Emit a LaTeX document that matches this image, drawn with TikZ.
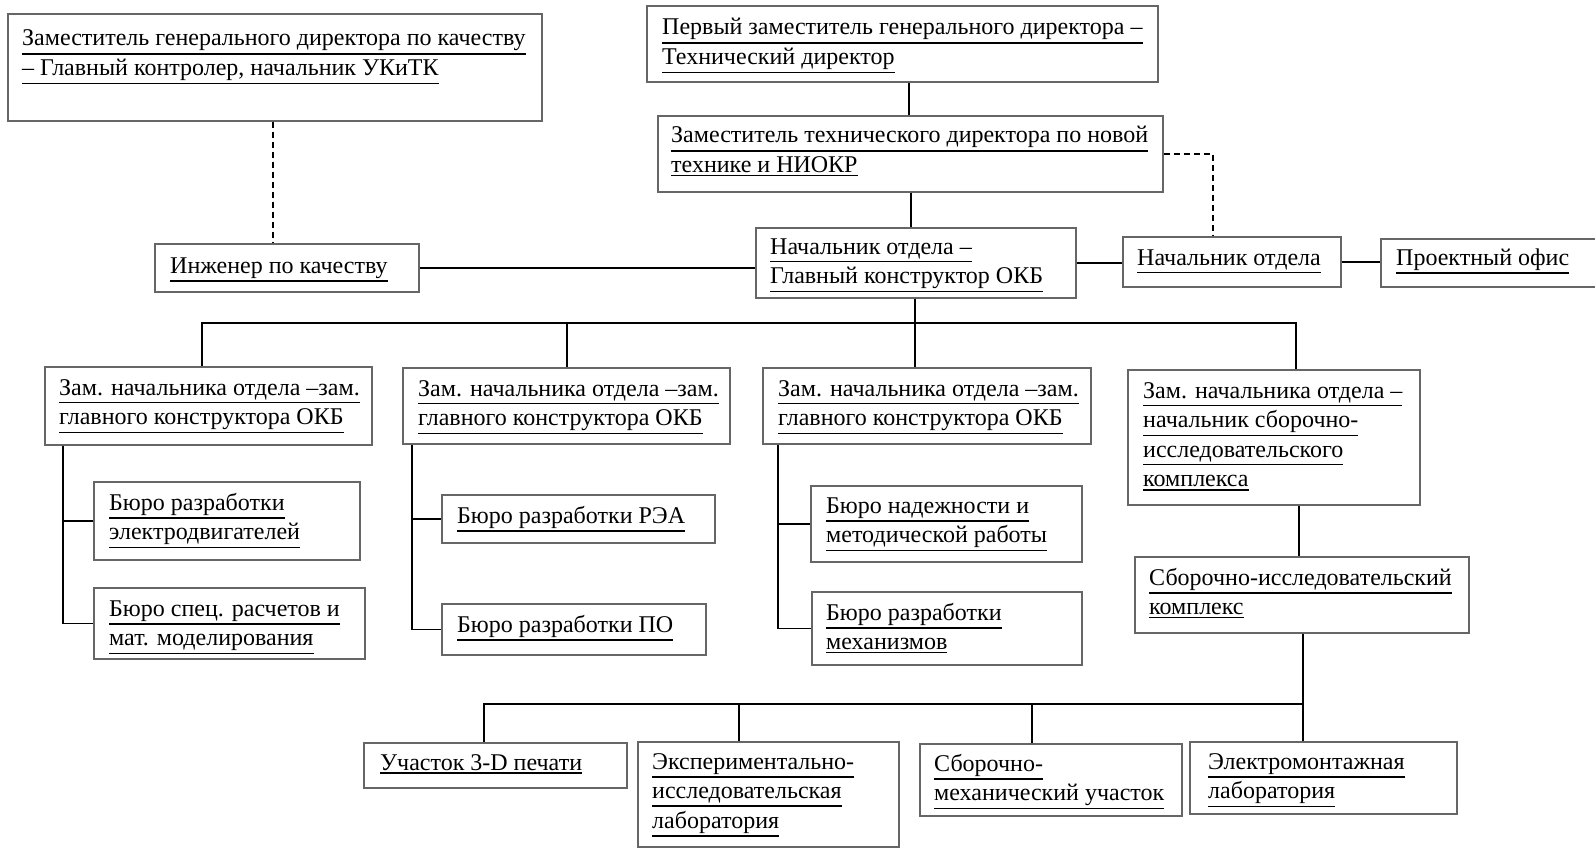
\documentclass[tikz,border=0pt]{standalone}
\usepackage{fontspec}
\setmainfont{Liberation Serif}
\usetikzlibrary{fit}
\tikzset{
  box/.style={draw=black!60, line width=1.1pt, rectangle, inner sep=0pt},
  conn/.style={draw=black, line width=1.8pt},
  dconn/.style={conn, dash pattern=on 6pt off 4pt},
  txt/.style={inner sep=0pt, anchor=base west, font=\fontsize{24}{29.6}\selectfont},
}
\newcommand\ulx[1]{\vtop{\hbox{#1}\kern2pt\hrule height1.5pt}}
\newcommand\bx[3]{\node[box, fit={(#2) (#3)}] (#1) {};}
\newcommand\tx[3]{\node[txt] (#1) at (#2) {\begin{tabular}[t]{@{}l@{}}#3\end{tabular}};}
\begin{document}
\begin{tikzpicture}[x=1pt,y=-1pt]
\fill[white] (0,0) rectangle (1595,853);
\useasboundingbox (0,0) rectangle (1595,853);
% boxes
\bx{A}{8,14}{542,121}
\bx{Q}{155,244}{419,292}
\bx{B}{647,6}{1158,82}
\bx{C}{658,116}{1163,192}
\bx{D}{756,228}{1076,298}
\bx{E}{1123,237}{1341,287}
\bx{F}{1381,239}{1600,287}
\bx{G1}{45,367}{372,445}
\bx{G2}{403,368}{730,444}
\bx{G3}{763,368}{1091,444}
\bx{G4}{1128,370}{1420,505}
\bx{H1}{94,482}{360,560}
\bx{H2}{94,588}{365,659}
\bx{H3}{442,495}{715,543}
\bx{H4}{442,604}{706,655}
\bx{H5}{811,486}{1082,562}
\bx{H6}{812,592}{1082,665}
\bx{I}{1135,557}{1469,633}
\bx{J1}{364,743}{627,788}
\bx{J2}{638,742}{899,847}
\bx{J3}{920,744}{1182,816}
\bx{J4}{1190,742}{1457,814}
% texts
\tx{tA}{22,46}{\ulx{Заместитель генерального директора по качеству}\\\ulx{– Главный контролер, начальник УКиТК}}
\tx{tQ}{170,273}{\ulx{Инженер по качеству}}
\tx{tB}{662,35}{\ulx{Первый заместитель генерального директора –}\\\ulx{Технический директор}}
\tx{tC}{671,143}{\ulx{Заместитель технического директора по новой}\\\ulx{технике и НИОКР}}
\tx{tD}{770,254}{\ulx{Начальник отдела –}\\\ulx{Главный конструктор ОКБ}}
\tx{tE}{1137,265}{\ulx{Начальник отдела}}
\tx{tF}{1396,265}{\ulx{Проектный офис}}
\tx{tG1}{59,395}{\ulx{Зам. начальника отдела –зам.}\\\ulx{главного конструктора ОКБ}}
\tx{tG2}{418,396}{\ulx{Зам. начальника отдела –зам.}\\\ulx{главного конструктора ОКБ}}
\tx{tG3}{778,396}{\ulx{Зам. начальника отдела –зам.}\\\ulx{главного конструктора ОКБ}}
\tx{tG4}{1143,398}{\ulx{Зам. начальника отдела –}\\\ulx{начальник сборочно-}\\\ulx{исследовательского}\\\ulx{комплекса}}
\tx{tH1}{109,510}{\ulx{Бюро разработки}\\\ulx{электродвигателей}}
\tx{tH2}{109,616}{\ulx{Бюро спец. расчетов и}\\\ulx{мат. моделирования}}
\tx{tH3}{457,523}{\ulx{Бюро разработки РЭА}}
\tx{tH4}{457,632}{\ulx{Бюро разработки ПО}}
\tx{tH5}{826,513}{\ulx{Бюро надежности и}\\\ulx{методической работы}}
\tx{tH6}{826,620}{\ulx{Бюро разработки}\\\ulx{механизмов}}
\tx{tI}{1149,585}{\ulx{Сборочно-исследовательский}\\\ulx{комплекс}}
\tx{tJ1}{380,770}{\ulx{Участок 3-D печати}}
\tx{tJ2}{652,769}{\ulx{Экспериментально-}\\\ulx{исследовательская}\\\ulx{лаборатория}}
\tx{tJ3}{934,771}{\ulx{Сборочно-}\\\ulx{механический участок}}
\tx{tJ4}{1208,769}{\ulx{Электромонтажная}\\\ulx{лаборатория}}
% connector coordinates
\coordinate (kA) at (273,0);
\coordinate (kB) at (909,0);
\coordinate (kC) at (911,0);
\coordinate (kD) at (915,0);
\coordinate (kE) at (1213,0);
\coordinate (bus1) at (0,323);
\coordinate (k1) at (202,0);
\coordinate (k2) at (567,0);
\coordinate (k4) at (1296,0);
\coordinate (s1) at (63,0);
\coordinate (s2) at (412,0);
\coordinate (s3) at (778,0);
\coordinate (kG) at (1299,0);
\coordinate (kI) at (1303,0);
\coordinate (bus2) at (0,704);
\coordinate (m1) at (484,0);
\coordinate (m2) at (739,0);
\coordinate (m3) at (1032,0);
% connectors
\draw[dconn] (kA |- A.south) -- (kA |- Q.north);
\draw[conn] (kB |- B.south) -- (kB |- C.north);
\draw[conn] (kC |- C.south) -- (kC |- D.north);
\draw[dconn] (C.east) -- (C.east -| kE) -- (kE |- E.north);
\draw[conn] (Q.east) -- (Q.east -| D.west);
\draw[conn] (D.east) -- (D.east -| E.west);
\draw[conn] (E.east) -- (E.east -| F.west);
\draw[conn] (kD |- D.south) -- (kD |- G3.north);
\draw[conn] (k1 |- G1.north) -- (k1 |- bus1) -- (k4 |- bus1) -- (k4 |- G4.north);
\draw[conn] (k2 |- bus1) -- (k2 |- G2.north);
\draw[conn] (s1 |- G1.south) -- (s1 |- H2.west) -- (H2.west);
\draw[conn] (s1 |- H1.west) -- (H1.west);
\draw[conn] (s2 |- G2.south) -- (s2 |- H4.west) -- (H4.west);
\draw[conn] (s2 |- H3.west) -- (H3.west);
\draw[conn] (s3 |- G3.south) -- (s3 |- H6.west) -- (H6.west);
\draw[conn] (s3 |- H5.west) -- (H5.west);
\draw[conn] (kG |- G4.south) -- (kG |- I.north);
\draw[conn] (kI |- I.south) -- (kI |- J4.north);
\draw[conn] (m1 |- J1.north) -- (m1 |- bus2) -- (kI |- bus2);
\draw[conn] (m2 |- bus2) -- (m2 |- J2.north);
\draw[conn] (m3 |- bus2) -- (m3 |- J3.north);
\end{tikzpicture}
\end{document}
